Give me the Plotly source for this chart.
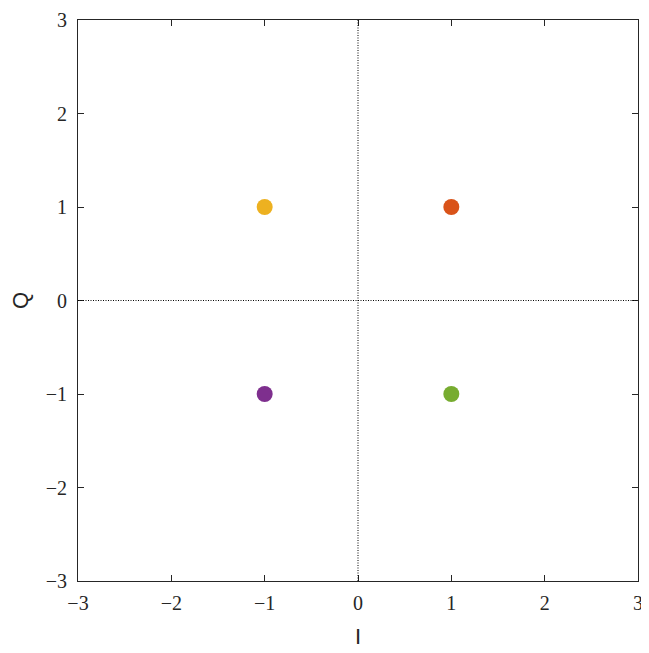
import plotly.graph_objects as go

# constellation points (QPSK)
i_vals = [1, -1, -1, 1]
q_vals = [1, 1, -1, -1]
colors = ["#D95319", "#EDB120", "#7E2F8E", "#77AC30"]

tick_vals = [-3, -2, -1, 0, 1, 2, 3]

AXIS_COLOR = "#262626"
TICK_FONT = dict(family="Liberation Serif", size=20, color="#262626")
LABEL_FONT = dict(family="Liberation Sans", size=22, color="#262626")

fig = go.Figure()
for i, q, c in zip(i_vals, q_vals, colors):
    fig.add_trace(
        go.Scatter(x=[i], y=[q], mode="markers", showlegend=False,
                   marker=dict(color=c, size=16, line=dict(width=0)))
    )

# dotted reference lines through the origin
fig.add_hline(y=0, line=dict(color="black", width=1, dash="1px,1.5px"))
fig.add_vline(x=0, line=dict(color="black", width=1, dash="1px,1.5px"))

axis_common = dict(
    range=[-3, 3],
    tickvals=tick_vals,
    ticks="inside",
    ticklen=6,
    tickcolor=AXIS_COLOR,
    showline=True,
    linecolor=AXIS_COLOR,
    linewidth=1,
    mirror="ticks",
    showgrid=False,
    zeroline=False,
    automargin=False,
    tickfont=TICK_FONT,
)

# page body adds an 8px offset, so the figure is a bit smaller than the window
fig.update_layout(
    width=641,
    height=645,
    margin=dict(l=70, r=11, t=12, b=72),
    plot_bgcolor="white",
    paper_bgcolor="white",
    xaxis=dict(title=dict(text="I", font=LABEL_FONT, standoff=15), ticklabelstandoff=4, **axis_common),
    yaxis=dict(title=dict(text="Q", font=LABEL_FONT, standoff=20), ticklabelstandoff=6, **axis_common),
)

fig.write_html("out.html")
